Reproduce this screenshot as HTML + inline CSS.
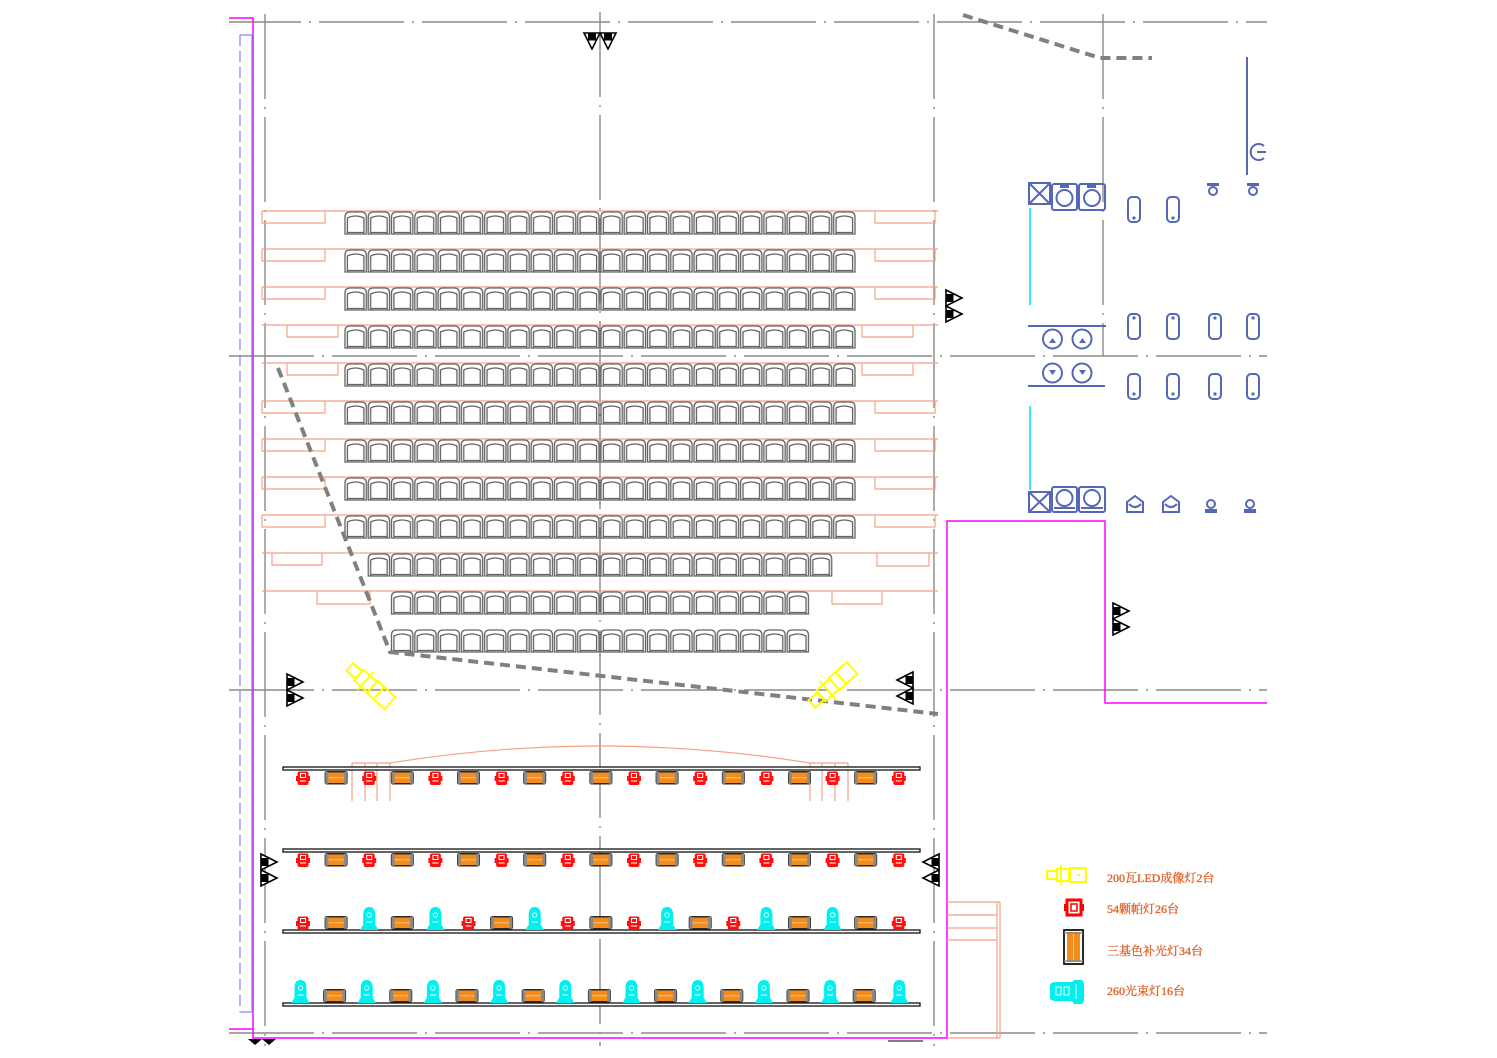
<!DOCTYPE html>
<html><head><meta charset="utf-8">
<style>
html,body{margin:0;padding:0;background:#fff;}
svg{display:block;}
.t{font-family:"Liberation Serif","Noto Serif CJK SC",serif;font-size:12px;fill:#e2622a;stroke:#e2622a;stroke-width:0.35;}
</style></head>
<body>
<svg width="1497" height="1058" viewBox="0 0 1497 1058" xmlns="http://www.w3.org/2000/svg">
<defs>
 <pattern id="seat" patternUnits="userSpaceOnUse" x="344" y="211" width="23.27" height="38">
  <g fill="none" stroke="#636363" stroke-width="1.3">
   <path d="M1,23 V6 Q1,1 6,1 H17.3 Q22.3,1 22.3,6 V23 Z"/>
   <path d="M3.4,23 V7 Q11.6,3 19.9,7 V23"/>
   <path d="M3.4,21.5 H19.9"/>
  </g>
 </pattern>
 <g id="tri">
  <polygon points="0,0 16,8 0,16" fill="#fff" stroke="#000" stroke-width="1.6"/>
  <rect x="0.5" y="4" width="7" height="8" fill="#000"/>
 </g>
 <g id="rd">
  <rect x="1" y="0.5" width="11" height="13.5" rx="2" fill="#ff1010"/>
  <rect x="-0.5" y="5" width="2" height="5" fill="#ff1010"/>
  <rect x="11.5" y="5" width="2" height="5" fill="#ff1010"/>
  <rect x="4" y="2.5" width="5" height="4" fill="none" stroke="#fff" stroke-width="1"/>
  <line x1="3.5" y1="10" x2="9.5" y2="10" stroke="#fff" stroke-width="1"/>
 </g>
 <g id="or">
  <rect x="0.75" y="0.75" width="21.5" height="12" rx="1.5" fill="#f28c1c" stroke="#2a2a2a" stroke-width="1.5"/>
  <rect x="0.75" y="0.75" width="3" height="12" fill="#8a8a8a"/>
  <rect x="19.25" y="0.75" width="3" height="12" fill="#8a8a8a"/>
  <line x1="4" y1="6.8" x2="19" y2="6.8" stroke="#ffc47a" stroke-width="1"/>
 </g>
 <g id="cy">
  <path d="M0,24 L2,20 L3,19 V9 Q3,1 9,1 Q15,1 15,9 V19 L16,20 L18,24 Z" fill="#00f0f0"/>
  <circle cx="9" cy="9" r="2.2" fill="none" stroke="#dff" stroke-width="1"/>
  <line x1="6" y1="16" x2="12" y2="16" stroke="#dff" stroke-width="1"/>
 </g>
 <g id="yl" fill="none" stroke="#ffff00" stroke-width="2">
  <rect x="-27" y="-5" width="12" height="10"/>
  <rect x="-15" y="-7" width="18" height="14"/>
  <line x1="-6" y1="-12" x2="-6" y2="12"/>
  <rect x="3" y="-8" width="24" height="16"/>
  <line x1="12" y1="-8" x2="12" y2="8"/>
 </g>
 <g id="cap" fill="none" stroke="#5468b5" stroke-width="2">
  <rect x="-6" y="0" width="12" height="25" rx="4"/>
 </g>
</defs>

<!-- grid lines -->
<g stroke="#8a8a8a" stroke-width="1.4" stroke-dasharray="85 8 2 8" fill="none">
 <line x1="229" y1="22" x2="1267" y2="22" stroke-dashoffset="13"/>
 <line x1="229" y1="356" x2="1267" y2="356"/>
 <line x1="229" y1="690" x2="1267" y2="690"/>
 <line x1="229" y1="1033" x2="1267" y2="1033"/>
 <line x1="265" y1="14" x2="265" y2="1046"/>
 <line x1="600" y1="12" x2="600" y2="1046"/>
 <line x1="934" y1="14" x2="934" y2="1046"/>
 <line x1="1103" y1="14" x2="1103" y2="356"/>
</g>

<!-- left boundary lines -->
<g fill="none" stroke-width="1.5">
 <polyline points="229,18 253,18 253,1038 947,1038 947,521 1105,521 1105,703 1267,703" stroke="#ff00ff"/>
 <line x1="229" y1="1029" x2="253" y2="1029" stroke="#ff00ff"/>
 <line x1="252" y1="35" x2="252" y2="1012" stroke="#8a7cff" stroke-width="1.2"/>
 <line x1="240" y1="35" x2="253" y2="35" stroke="#8080ff" stroke-width="1.2"/>
 <line x1="240" y1="1012" x2="253" y2="1012" stroke="#8080ff" stroke-width="1.2"/>
 <line x1="240" y1="35" x2="240" y2="1012" stroke="#8080ff" stroke-width="1.2" stroke-dasharray="11 5"/>
</g>

<!-- orange step lines -->
<g fill="none" stroke="#f4a286" stroke-width="1.2">
 <path d="M262,211H938M262,249H938M262,287H938M262,325H938M262,363H938M262,401H938M262,439H938M262,477H938M262,515H938M262,553H938M262,591H938"/>
 <path d="M262,211V223H325V211M262,249V261H325V249M262,287V299H325V287"/>
 <path d="M287,325V337H338V325M287,363V375H338V363"/>
 <path d="M262,401V413H325V401M262,439V451H325V439M262,477V489H325V477M262,515V527H325V515"/>
 <path d="M272,553V565H322V553M317,591V604H370V591"/>
 <path d="M875,211V223H935V211M875,249V261H935V249M875,287V299H935V287"/>
 <path d="M862,325V337H913V325M862,363V375H913V363"/>
 <path d="M875,401V413H935V401M875,439V451H935V439M875,477V489H935V477M875,515V527H935V515"/>
 <path d="M877,553V566H929V553M832,591V604H882V591"/>
 <!-- stage arc -->
 <path d="M390,763 Q600,729 810,763"/>
 <path d="M352,763H390M352,763V801M365,763V801M377,763V801M390,763V801"/>
 <path d="M810,763H848M810,763V801M822,763V801M835,763V801M848,763V801"/>
 <!-- stairs right -->
 <path d="M947,902H1000M947,915H997M947,928H997M947,940H997M997,902V1038M1000,902V1038M947,1038H1000"/>
</g>

<!-- seats -->
<rect x="344" y="211" width="512" height="342" fill="url(#seat)"/>
<rect x="367.27" y="553" width="465.4" height="38" fill="url(#seat)"/>
<rect x="390.54" y="591" width="418.9" height="76" fill="url(#seat)"/>

<!-- dashed thick gray -->
<g fill="none" stroke="#808080" stroke-width="4" stroke-dasharray="10 6">
 <polyline points="278,368 390,652 938,714"/>
 <polyline points="963,15 1100,58 1152,58"/>
</g>

<!-- triangles -->
<use href="#tri" transform="translate(600,33) rotate(90)"/>
<use href="#tri" transform="translate(616,33) rotate(90)"/>
<use href="#tri" transform="translate(946,290)"/>
<use href="#tri" transform="translate(946,306)"/>
<use href="#tri" transform="translate(1113,603)"/>
<use href="#tri" transform="translate(1113,619)"/>
<use href="#tri" transform="translate(287,674)"/>
<use href="#tri" transform="translate(287,690)"/>
<use href="#tri" transform="translate(913,672) scale(-1,1)"/>
<use href="#tri" transform="translate(913,688) scale(-1,1)"/>
<use href="#tri" transform="translate(261,854)"/>
<use href="#tri" transform="translate(261,870)"/>
<use href="#tri" transform="translate(939,854) scale(-1,1)"/>
<use href="#tri" transform="translate(939,870) scale(-1,1)"/>
<g fill="#000">
 <polygon points="248,1039 262,1039 255,1045"/>
 <polygon points="262,1039 276,1039 269,1045"/>
 <rect x="253" y="1039" width="6" height="3"/>
 <rect x="267" y="1039" width="6" height="3"/>
</g>
<line x1="888" y1="1041" x2="923" y2="1041" stroke="#555" stroke-width="1.5"/>

<!-- yellow LED lights -->
<use href="#yl" transform="translate(370,685) rotate(42)"/>
<use href="#yl" transform="translate(832,686) rotate(-42)"/>

<!-- bars -->
<g fill="#fff" stroke="#111" stroke-width="1.3">
 <rect x="283" y="767" width="637" height="3"/>
 <rect x="283" y="849" width="637" height="3"/>
 <rect x="283" y="930" width="637" height="3"/>
 <rect x="283" y="1003" width="637" height="3"/>
</g>

<!-- row 1 -->
<g>
 <use href="#rd" x="296.5" y="771"/><use href="#rd" x="362.7" y="771"/><use href="#rd" x="428.9" y="771"/><use href="#rd" x="495.1" y="771"/><use href="#rd" x="561.3" y="771"/><use href="#rd" x="627.5" y="771"/><use href="#rd" x="693.7" y="771"/><use href="#rd" x="759.9" y="771"/><use href="#rd" x="826.1" y="771"/><use href="#rd" x="892.3" y="771"/>
 <use href="#or" x="324.6" y="771"/><use href="#or" x="390.8" y="771"/><use href="#or" x="457.0" y="771"/><use href="#or" x="523.2" y="771"/><use href="#or" x="589.4" y="771"/><use href="#or" x="655.6" y="771"/><use href="#or" x="721.8" y="771"/><use href="#or" x="788.0" y="771"/><use href="#or" x="854.2" y="771"/>
</g>
<!-- row 2 -->
<g>
 <use href="#rd" x="296.5" y="853"/><use href="#rd" x="362.7" y="853"/><use href="#rd" x="428.9" y="853"/><use href="#rd" x="495.1" y="853"/><use href="#rd" x="561.3" y="853"/><use href="#rd" x="627.5" y="853"/><use href="#rd" x="693.7" y="853"/><use href="#rd" x="759.9" y="853"/><use href="#rd" x="826.1" y="853"/><use href="#rd" x="892.3" y="853"/>
 <use href="#or" x="324.6" y="853"/><use href="#or" x="390.8" y="853"/><use href="#or" x="457.0" y="853"/><use href="#or" x="523.2" y="853"/><use href="#or" x="589.4" y="853"/><use href="#or" x="655.6" y="853"/><use href="#or" x="721.8" y="853"/><use href="#or" x="788.0" y="853"/><use href="#or" x="854.2" y="853"/>
</g>
<!-- row 3 -->
<g>
 <use href="#rd" x="296.5" y="916"/>
 <use href="#or" x="324.6" y="916"/>
 <use href="#cy" x="360.2" y="906"/>
 <use href="#or" x="390.8" y="916"/>
 <use href="#cy" x="426.4" y="906"/>
 <use href="#rd" x="462.0" y="916"/>
 <use href="#or" x="490.1" y="916"/>
 <use href="#cy" x="525.7" y="906"/>
 <use href="#rd" x="561.3" y="916"/>
 <use href="#or" x="589.4" y="916"/>
 <use href="#rd" x="627.5" y="916"/>
 <use href="#cy" x="658.1" y="906"/>
 <use href="#or" x="688.7" y="916"/>
 <use href="#rd" x="726.8" y="916"/>
 <use href="#cy" x="757.4" y="906"/>
 <use href="#or" x="788.0" y="916"/>
 <use href="#cy" x="823.6" y="906"/>
 <use href="#or" x="854.2" y="916"/>
 <use href="#rd" x="892.3" y="916"/>
</g>
<!-- row 4 -->
<g>
 <use href="#cy" x="291.5" y="979"/><use href="#cy" x="357.7" y="979"/><use href="#cy" x="423.9" y="979"/><use href="#cy" x="490.1" y="979"/><use href="#cy" x="556.3" y="979"/><use href="#cy" x="622.5" y="979"/><use href="#cy" x="688.7" y="979"/><use href="#cy" x="754.9" y="979"/><use href="#cy" x="821.1" y="979"/><use href="#cy" x="890.3" y="979"/>
 <use href="#or" x="323.1" y="989"/><use href="#or" x="389.3" y="989"/><use href="#or" x="455.5" y="989"/><use href="#or" x="521.7" y="989"/><use href="#or" x="587.9" y="989"/><use href="#or" x="654.1" y="989"/><use href="#or" x="720.3" y="989"/><use href="#or" x="786.5" y="989"/><use href="#or" x="852.7" y="989"/>
</g>

<!-- right area blue symbols -->
<g fill="none" stroke="#5468b5" stroke-width="2">
 <rect x="1029" y="183" width="21" height="21"/>
 <path d="M1029,183L1050,204M1050,183L1029,204"/>
 <rect x="1052" y="184" width="25" height="26" rx="2"/>
 <circle cx="1064.5" cy="198" r="8"/>
 <rect x="1079" y="184" width="26" height="26" rx="2"/>
 <circle cx="1092" cy="198" r="8"/>
 <rect x="1029" y="492" width="21" height="20"/>
 <path d="M1029,492L1050,512M1050,492L1029,512"/>
 <rect x="1052" y="487" width="25" height="25" rx="2"/>
 <circle cx="1064.5" cy="498" r="8"/>
 <line x1="1054" y1="508" x2="1075" y2="508"/>
 <rect x="1079" y="487" width="26" height="25" rx="2"/>
 <circle cx="1092" cy="498" r="8"/>
 <line x1="1081" y1="508" x2="1103" y2="508"/>
 <line x1="1028" y1="326" x2="1106" y2="326"/>
 <line x1="1028" y1="386" x2="1105" y2="386"/>
 <line x1="1247" y1="57" x2="1247" y2="175"/>
 <path d="M1264,146 A8,8 0 1 0 1264,158"/>
 <line x1="1257" y1="152" x2="1266" y2="152"/>
 <circle cx="1052.5" cy="339" r="9.5"/>
 <circle cx="1082" cy="339" r="9.5"/>
 <circle cx="1052.5" cy="373" r="9.5"/>
 <circle cx="1082" cy="373" r="9.5"/>
 <circle cx="1213" cy="191" r="4"/>
 <circle cx="1253" cy="191" r="4"/>
 <polygon points="1127,502 1135,496 1143,502 1143,512 1127,512"/>
 <path d="M1129,504 Q1135,510 1141,504"/>
 <polygon points="1163,502 1171,496 1179,502 1179,512 1163,512"/>
 <path d="M1165,504 Q1171,510 1177,504"/>
 <circle cx="1211" cy="504" r="4"/>
 <circle cx="1250" cy="504" r="4"/>
</g>
<g fill="#5468b5">
 <path d="M1049,343 l3.5,-5 l3.5,5 z M1079,343 l3.5,-5 l3.5,5 z M1049,370 l3.5,5 l3.5,-5 z M1079,370 l3.5,5 l3.5,-5 z"/>
 <rect x="1207" y="183" width="12" height="3"/>
 <rect x="1247" y="183" width="12" height="3"/>
 <rect x="1205" y="509" width="12" height="4"/>
 <rect x="1244" y="509" width="12" height="4"/>
 <rect x="1060" y="185" width="9" height="3"/>
 <rect x="1087" y="185" width="9" height="3"/>
 <circle cx="1134" cy="218" r="1.6"/><circle cx="1173" cy="218" r="1.6"/>
 <circle cx="1134" cy="318" r="1.6"/><circle cx="1173" cy="318" r="1.6"/><circle cx="1215" cy="318" r="1.6"/><circle cx="1253" cy="318" r="1.6"/>
 <circle cx="1134" cy="394" r="1.6"/><circle cx="1173" cy="394" r="1.6"/><circle cx="1215" cy="394" r="1.6"/><circle cx="1253" cy="394" r="1.6"/>
 <circle cx="1135" cy="507" r="1.3"/><circle cx="1171" cy="507" r="1.3"/>
</g>
<use href="#cap" x="1134" y="197"/><use href="#cap" x="1173" y="197"/>
<use href="#cap" x="1134" y="314"/><use href="#cap" x="1173" y="314"/><use href="#cap" x="1215" y="314"/><use href="#cap" x="1253" y="314"/>
<use href="#cap" x="1134" y="374"/><use href="#cap" x="1173" y="374"/><use href="#cap" x="1215" y="374"/><use href="#cap" x="1253" y="374"/>
<g stroke="#00e8ff" stroke-width="1.6">
 <line x1="1030" y1="208" x2="1030" y2="305"/>
 <line x1="1030" y1="406" x2="1030" y2="490"/>
</g>

<!-- legend -->
<g fill="none" stroke="#ffff00" stroke-width="2">
 <rect x="1047" y="871" width="10" height="8"/>
 <rect x="1057" y="869" width="12" height="12"/>
 <line x1="1061" y1="865" x2="1061" y2="885"/>
 <rect x="1070" y="868" width="16" height="14"/>
 <line x1="1077" y1="875" x2="1080" y2="875"/>
</g>
<g>
 <rect x="1067" y="900" width="14" height="15" fill="none" stroke="#ff0000" stroke-width="3"/>
 <rect x="1064" y="904" width="3" height="7" fill="#ff0000"/>
 <rect x="1081" y="904" width="3" height="7" fill="#ff0000"/>
 <rect x="1071" y="904" width="6" height="7" fill="none" stroke="#ff0000" stroke-width="1.5"/>
</g>
<g>
 <rect x="1064" y="930" width="19" height="34" fill="#fff" stroke="#111" stroke-width="1.8"/>
 <rect x="1067" y="932" width="13" height="30" fill="#f28c1c"/>
 <line x1="1073.5" y1="933" x2="1073.5" y2="961" stroke="#ffc47a" stroke-width="1"/>
 <line x1="1064" y1="933" x2="1083" y2="933" stroke="#888" stroke-width="1.5"/>
 <line x1="1064" y1="961" x2="1083" y2="961" stroke="#888" stroke-width="1.5"/>
</g>
<g>
 <path d="M1050,986 Q1050,982 1056,982 L1072,982 L1074,980 L1082,980 L1084,983 L1084,1001 L1082,1004 L1074,1004 L1072,1001 L1056,1001 Q1050,1001 1050,997 Z" fill="#00f0f0"/>
 <rect x="1056" y="987" width="5" height="8" fill="none" stroke="#dff" stroke-width="1"/>
 <rect x="1064" y="987" width="5" height="8" fill="none" stroke="#dff" stroke-width="1"/>
 <line x1="1076" y1="984" x2="1076" y2="999" stroke="#dff" stroke-width="1"/>
</g>
<text class="t" x="1107" y="882">200瓦LED成像灯2台</text>
<text class="t" x="1107" y="913">54颗帕灯26台</text>
<text class="t" x="1107" y="955">三基色补光灯34台</text>
<text class="t" x="1107" y="995">260光束灯16台</text>
</svg>
</body></html>
